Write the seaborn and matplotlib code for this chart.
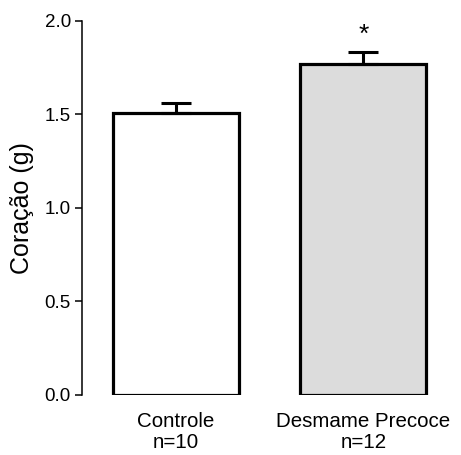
import matplotlib
matplotlib.use("Agg")
import matplotlib.pyplot as plt
import seaborn as sns
import pandas as pd

groups = ["Controle", "Desmame Precoce"]
tick_labels = ["Controle\nn=10", "Desmame Precoce\nn=12"]
means = [1.51, 1.772]
sems = [0.05, 0.062]
colors = ["#FFFFFF", "#DCDCDC"]
signif = ["", "*"]

sns.set_theme(style="ticks")
plt.rcParams["font.family"] = ["Liberation Sans", "DejaVu Sans"]
plt.rcParams["text.color"] = "black"
plt.rcParams["axes.labelcolor"] = "black"

df = pd.DataFrame({"grupo": groups, "massa": means})

fig = plt.figure(figsize=(4.61, 4.55), dpi=100)
ax = fig.add_axes([0.1779, 0.1319, 0.8134, 0.8220])

sns.barplot(data=df, x="grupo", y="massa", hue="grupo", palette=colors,
            edgecolor="black", linewidth=2.3, width=0.672, errorbar=None,
            legend=False, ax=ax)

ax.errorbar(range(len(groups)), means, yerr=[[0] * len(sems), sems],
            fmt="none", ecolor="black", elinewidth=2.2, capsize=10.8,
            capthick=2.2, zorder=1)

for i, (m, s, t) in enumerate(zip(means, sems, signif)):
    if t:
        ax.text(i, m + s + 0.025, t, ha="center", va="bottom", fontsize=19,
                color="black")

ax.set_xlim(-0.501, 1.5)
ax.set_ylim(0, 2.0)
ax.set_yticks([0.0, 0.5, 1.0, 1.5, 2.0])
ax.set_yticklabels(["0.0", "0.5", "1.0", "1.5", "2.0"], fontsize=13.5,
                   color="black")
ax.set_xticks(range(len(groups)))
ax.set_xticklabels(tick_labels, fontsize=14.8, linespacing=1.15,
                   color="black")
ax.set_xlabel("")
ax.set_ylabel("Coração (g)", fontsize=18, labelpad=8, color="black")

for sp in ["top", "right", "bottom"]:
    ax.spines[sp].set_visible(False)
ax.spines["left"].set_linewidth(1.1)
ax.spines["left"].set_color("black")
ax.tick_params(axis="y", length=5, width=1.1, pad=3, colors="black")
ax.tick_params(axis="x", length=0, pad=12, colors="black")
ax.set_facecolor("white")
fig.patch.set_facecolor("white")

fig.savefig("out.png", dpi=100)
